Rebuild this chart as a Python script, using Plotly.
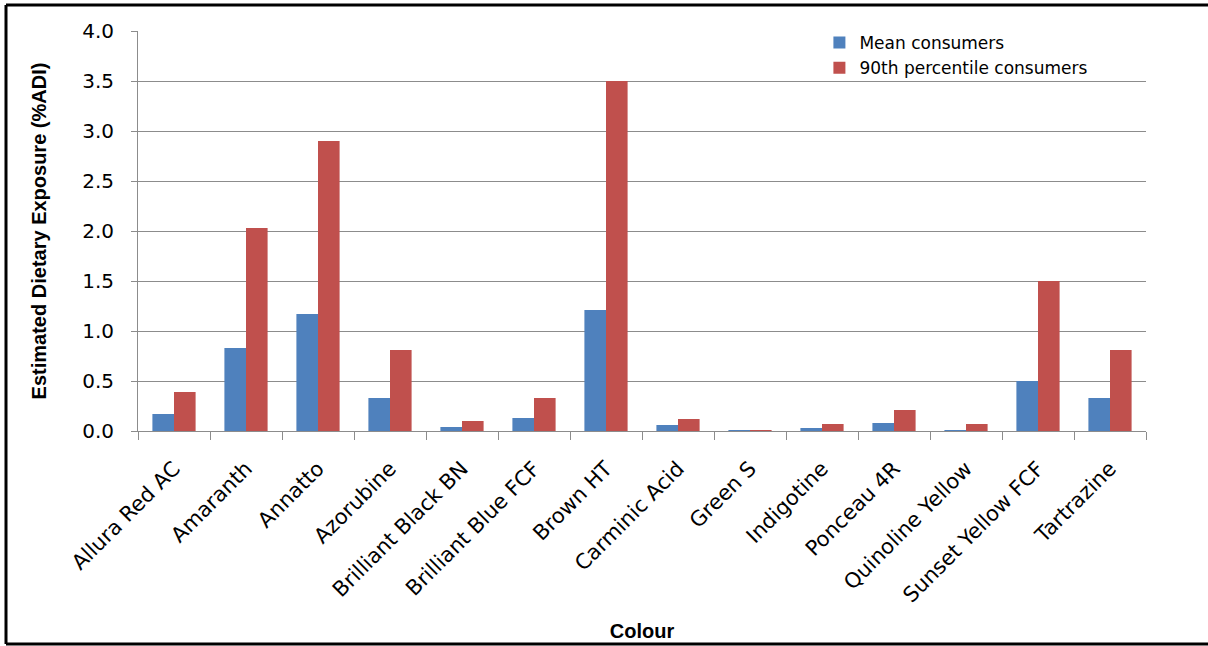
import plotly.graph_objects as go

categories = ["Allura Red AC", "Amaranth", "Annatto", "Azorubine", "Brilliant Black BN",
              "Brilliant Blue FCF", "Brown HT", "Carminic Acid", "Green S", "Indigotine",
              "Ponceau 4R", "Quinoline Yellow", "Sunset Yellow FCF", "Tartrazine"]
mean_consumers = [0.17, 0.83, 1.17, 0.33, 0.04, 0.13, 1.21, 0.06, 0.01, 0.03, 0.08, 0.01, 0.50, 0.33]
p90_consumers = [0.39, 2.03, 2.90, 0.81, 0.10, 0.33, 3.50, 0.12, 0.01, 0.07, 0.21, 0.07, 1.50, 0.81]
y_ticks = [0.0, 0.5, 1.0, 1.5, 2.0, 2.5, 3.0, 3.5, 4.0]

W, H = 1208, 646
L, R, T, B = 138, 62, 31, 215
pw, ph = W - L - R, H - T - B

fig = go.Figure()
fig.add_trace(go.Bar(x=categories, y=mean_consumers, name="Mean consumers",
                     marker=dict(color="#4F81BD", line=dict(width=0))))
fig.add_trace(go.Bar(x=categories, y=p90_consumers, name="90th percentile consumers",
                     marker=dict(color="#C0504D", line=dict(width=0))))

font_main = "'DejaVu Sans', sans-serif"
font_bold = "'Liberation Sans', Arial, sans-serif"

fig.update_layout(
    width=W, height=H,
    margin=dict(l=L, r=R, t=T, b=B, pad=0, autoexpand=False),
    paper_bgcolor="white", plot_bgcolor="white",
    barmode="group", bargap=0.40, bargroupgap=0,
    font=dict(family=font_main, color="#000000"),
    legend=dict(x=0.676, y=1.015, xanchor="left", yanchor="top",
                bgcolor="rgba(0,0,0,0)", font=dict(size=17, family=font_main),
                itemwidth=30, tracegroupgap=0),
    showlegend=True,
)
fig.update_yaxes(
    range=[0, 4.0], tickvals=y_ticks, ticktext=[f"{v:.1f}" for v in y_ticks],
    showgrid=True, gridcolor="#8C8C8C", gridwidth=1,
    showline=True, linecolor="#8C8C8C", linewidth=1,
    ticks="outside", ticklen=6, tickcolor="#8C8C8C",
    tickfont=dict(size=20, family=font_main), ticklabelstandoff=13,
    zeroline=False, automargin=False,
    title=dict(text="<b>Estimated Dietary Exposure (%ADI)</b>",
               font=dict(size=20, family=font_bold), standoff=30),
)
fig.update_xaxes(
    type="category", tickangle=-45,
    showline=True, linecolor="#8C8C8C", linewidth=1,
    ticks="outside", ticklen=8, tickcolor="#8C8C8C", tickson="boundaries",
    tickfont=dict(size=21, family=font_main), ticklabelstandoff=16,
    showgrid=False, automargin=False,
    title=dict(text="<b>Colour</b>", font=dict(size=20, family=font_bold), standoff=17),
)

# outer frame (figure border)
def px_x(x):
    return (x - L) / pw
def px_y(y):
    return 1 - (y - T) / ph

for x0, y0, x1, y1 in [(6, 5, 1215, 5), (6, 5, 6, 644), (6, 644, 1215, 644)]:
    fig.add_shape(type="line", xref="paper", yref="paper",
                  x0=px_x(x0), y0=px_y(y0), x1=px_x(x1), y1=px_y(y1),
                  line=dict(color="#000000", width=3), layer="above")

fig.write_html("out.html")
